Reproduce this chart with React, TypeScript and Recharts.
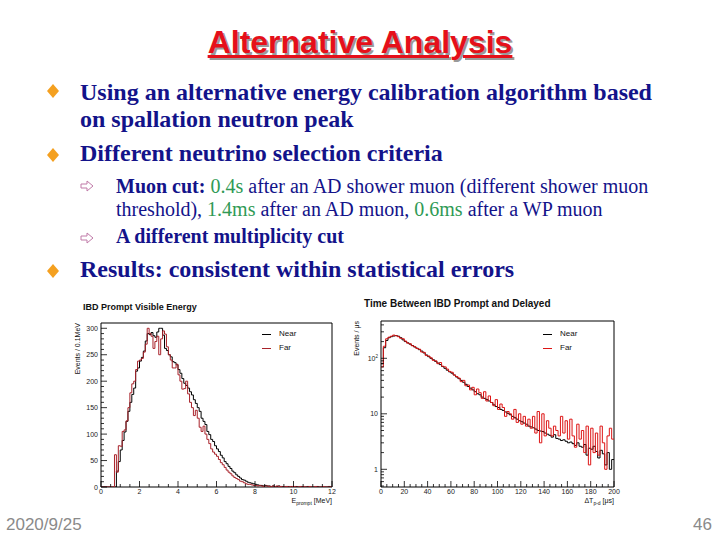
import React from 'react';
import { LineChart, Line, XAxis, YAxis, ReferenceArea } from 'recharts';

// IBD prompt visible energy, events per 0.1 MeV bin, 0 - 12 MeV
const energyNear = [
  0, 0, 0, 0, 0, 0, 0, 0, 30, 48,
  70, 88, 104, 124, 143, 160, 175, 187, 219, 225,
  238, 245, 257, 276, 290, 288, 292, 286, 283, 293,
  300, 300, 287, 262, 258, 250, 246, 237, 235, 231,
  222, 215, 205, 196, 192, 187, 180, 174, 165, 158,
  150, 143, 130, 124, 118, 105, 99, 90, 86, 78,
  72, 67, 60, 55, 48, 44, 39, 35, 30, 27,
  23, 20, 17, 14, 13, 11, 9, 8, 7, 6,
  5, 4, 3, 3, 2, 3, 2, 2, 1, 2,
  1, 1, 2, 1, 1, 0, 1, 1, 0, 1,
  0, 1, 0, 0, 1, 0, 0, 1, 0, 0,
  0, 0, 1, 0, 0, 0, 0, 0, 1, 0,
];
const energyFar = [
  0, 0, 0, 0, 0, 0, 0, 61, 28, 78,
  77, 105, 108, 125, 150, 178, 195, 200, 222, 238,
  240, 243, 255, 270, 300, 290, 285, 262, 275, 285,
  250, 280, 295, 289, 265, 250, 240, 225, 225, 232,
  212, 200, 185, 186, 200, 176, 160, 150, 135, 145,
  130, 113, 105, 115, 100, 90, 82, 72, 66, 62,
  58, 52, 46, 42, 37, 32, 28, 25, 21, 18,
  16, 14, 11, 10, 8, 6, 5, 5, 4, 3,
  3, 2, 3, 2, 1, 2, 2, 1, 1, 2,
  1, 2, 1, 1, 0, 1, 1, 0, 1, 1,
  1, 0, 0, 1, 0, 1, 0, 0, 1, 0,
  0, 1, 0, 0, 0, 1, 0, 0, 0, 0,
];

// time between prompt and delayed, events per us, 2 us bins, 0 - 200 us
const dtNear = [
  80, 155, 210, 235, 245, 252, 257, 250, 235, 215,
  200, 190, 180, 170, 160, 152, 143, 135, 125, 115,
  107, 100, 94, 88, 82, 77, 71, 66, 61, 57,
  54, 50, 46, 43, 40, 37, 34, 31, 29, 27,
  25, 23, 22, 20, 19, 18, 17, 16, 14.5, 13.5,
  13, 12, 11.5, 10.8, 10.2, 9.6, 9, 8.5, 8, 7.5,
  7.2, 6.8, 6.5, 6, 5.8, 5.6, 5.3, 5, 4.9, 4.8,
  4.5, 4.3, 4.1, 3.8, 4.2, 3.6, 3.5, 3.3, 3.4, 3.2,
  3.0, 3.1, 2.9, 2.7, 3.0, 2.6, 2.5, 2.8, 1.8, 2.4,
  2.3, 2.6, 2.1, 1.6, 2.2, 1.9, 1.2, 2.0, 1.0, 1.5,
];
const dtFar = [
  70, 165, 225, 240, 250, 262, 255, 245, 230, 225,
  205, 188, 183, 168, 162, 150, 146, 130, 128, 112,
  110, 102, 92, 90, 80, 84, 72, 70, 64, 58,
  56, 50, 47, 44, 38, 40, 32, 33, 27, 30,
  22, 28, 24, 19, 25, 17, 21, 16, 14, 18,
  12, 15, 13, 9, 11, 10, 8, 12, 7, 10,
  6.5, 9, 6, 8, 5.5, 9, 4.5, 11, 3, 10,
  4, 7.5, 5.5, 4, 6, 5, 4, 9, 4.5, 7.5,
  3.5, 8, 4, 2.5, 6.5, 3.5, 5, 2, 6, 1.2,
  5.5, 2, 4.5, 1.8, 6, 3, 1, 4, 5.5, 3.5,
];

const energyMajor = [0, 2, 4, 6, 8, 10, 12];
const energyCountMajor = [0, 50, 100, 150, 200, 250, 300];
const dtMajor = [0, 20, 40, 60, 80, 100, 120, 140, 160, 180, 200];
const dtCountMajor = [1, 10, 100];

function histRows(near: number[], far: number[], bin: number) {
  const rows = near.map((n, i) => ({ x: Math.round(i * bin * 10) / 10, near: n, far: far[i] }));
  rows.push({ x: Math.round(near.length * bin * 10) / 10, near: near[near.length - 1], far: far[far.length - 1] });
  return rows;
}

const energyData = histRows(energyNear, energyFar, 0.1);
const dtData = histRows(dtNear, dtFar, 2);

const energyTicks = Array.from({ length: 25 }, (_, i) => i * 0.5);
const countTicks = Array.from({ length: 31 }, (_, i) => i * 10);
const dtTicks = Array.from({ length: 41 }, (_, i) => i * 5);
const logTicks: number[] = [];
[0.1, 1, 10, 100].forEach((d) => {
  for (let m = 1; m <= 9; m++) {
    const v = m * d;
    if (v >= 0.48 && v <= 470) logTicks.push(v);
  }
});

const sans = 'Liberation Sans, Arial, Helvetica, sans-serif';
const serif = 'Liberation Serif, Times New Roman, serif';
const navy = '#13138a';
const green = '#2f9a55';

function XTick(props: any) {
  const { x, y, payload, majors } = props;
  const major = majors.includes(payload.value);
  return (
    <g>
      <line x1={x} x2={x} y1={y} y2={y - (major ? 6 : 3)} stroke="#000" strokeWidth={0.8} />
      {major && (
        <text x={x} y={y + 7} textAnchor="middle" fontFamily={sans} fontSize={7} fill="#222">
          {payload.value}
        </text>
      )}
    </g>
  );
}

function YTick(props: any) {
  const { x, y, payload, majors, log } = props;
  const v = payload.value;
  const major = majors.includes(v);
  return (
    <g>
      <line x1={x} x2={x + (major ? 6 : 3)} y1={y} y2={y} stroke="#000" strokeWidth={0.8} />
      {major && (
        <text x={x - 3} y={y + 2.5} textAnchor="end" fontFamily={sans} fontSize={7} fill="#222">
          {log && v === 100 ? (
            <>
              10<tspan dy={-3} fontSize={4.5}>2</tspan>
            </>
          ) : (
            v
          )}
        </text>
      )}
    </g>
  );
}

function Diamond({ cx, cy }: { cx: number; cy: number }) {
  return (
    <svg style={{ position: 'absolute', left: cx - 6, top: cy - 7 }} width={12} height={14}>
      <polygon points="6,0 12,7 6,14 0,7" fill="#f4a020" />
    </svg>
  );
}

function Arrow({ cx, cy }: { cx: number; cy: number }) {
  return (
    <svg style={{ position: 'absolute', left: cx - 7, top: cy - 6 }} width={14} height={12}>
      <polygon points="1,4 7,4 7,1 13,6 7,11 7,8 1,8" fill="none" stroke="#c07aa8" strokeWidth={1} />
    </svg>
  );
}

function Txt({ left, top, size, children, style }: any) {
  return (
    <div
      style={{
        position: 'absolute',
        left,
        top,
        fontSize: size,
        lineHeight: `${size}px`,
        whiteSpace: 'nowrap',
        fontFamily: serif,
        color: navy,
        ...style,
      }}
    >
      {children}
    </div>
  );
}

function LegendBox({ left, top, far }: { left: number; top: number; far: string }) {
  const item = (label: string, color: string, dy: number) => (
    <div style={{ position: 'absolute', left: 0, top: dy, display: 'flex', alignItems: 'center' }}>
      <div style={{ width: 9, height: 0, borderTop: `1px solid ${color}` }} />
      <span style={{ marginLeft: 8, fontFamily: sans, fontSize: 8, lineHeight: '8px', color: '#111' }}>{label}</span>
    </div>
  );
  return (
    <div style={{ position: 'absolute', left, top, width: 50, height: 30 }}>
      {item('Near', '#000', 0)}
      {item('Far', far, 14)}
    </div>
  );
}

const smallSans = { fontFamily: sans, color: '#111' };

export default function App() {
  return (
    <div style={{ position: 'absolute', left: 0, top: 0, width: 720, height: 540, background: '#fff', overflow: 'hidden' }}>
      {/* title */}
      <div
        style={{
          position: 'absolute',
          left: 0,
          top: 27,
          width: 720,
          textAlign: 'center',
          fontFamily: sans,
          fontWeight: 'bold',
          fontSize: 32,
          lineHeight: '31px',
          color: '#e5101a',
          textDecoration: 'underline',
          textShadow: '2px 2px 0 #9a9a9a',
        }}
      >
        Alternative Analysis
      </div>

      <Diamond cx={53} cy={91} />
      <Txt left={80} top={80} size={24} style={{ fontWeight: 'bold' }}>
        Using an alternative energy calibration algorithm based
      </Txt>
      <Txt left={80} top={107} size={24} style={{ fontWeight: 'bold' }}>
        on spallation neutron peak
      </Txt>
      <Diamond cx={53} cy={155} />
      <Txt left={80} top={141} size={24} style={{ fontWeight: 'bold' }}>
        Different neutrino selection criteria
      </Txt>

      <Arrow cx={87} cy={186} />
      <Txt left={116} top={176} size={20}>
        <b>Muon cut:</b> <span style={{ color: green }}>0.4s</span> after an AD shower muon (different shower muon
      </Txt>
      <Txt left={116} top={199} size={20}>
        threshold), <span style={{ color: green }}>1.4ms</span> after an AD muon,{' '}
        <span style={{ color: green }}>0.6ms</span> after a WP muon
      </Txt>
      <Arrow cx={87} cy={238} />
      <Txt left={116} top={226} size={20} style={{ fontWeight: 'bold' }}>
        A different multiplicity cut
      </Txt>

      <Diamond cx={53} cy={271} />
      <Txt left={80} top={257} size={24} style={{ fontWeight: 'bold' }}>
        Results: consistent within statistical errors
      </Txt>

      {/* left histogram */}
      <div style={{ position: 'absolute', left: 83, top: 302, fontFamily: sans, fontWeight: 'bold', fontSize: 9, lineHeight: '10px', color: '#111' }}>
        IBD Prompt Visible Energy
      </div>
      <div
        style={{
          position: 'absolute',
          left: 74,
          top: 423,
          width: 100,
          textAlign: 'right',
          transform: 'rotate(-90deg)',
          transformOrigin: '0 0',
          fontSize: 7,
          lineHeight: '8px',
          ...smallSans,
        }}
      >
        Events / 0.1MeV
      </div>
      <div style={{ position: 'absolute', left: 60, top: 300 }}>
        <LineChart width={290} height={210} data={energyData} margin={{ top: 23, right: 18, left: 0, bottom: 0 }}>
          <XAxis
            dataKey="x"
            type="number"
            domain={[0, 12]}
            allowDataOverflow
            ticks={energyTicks}
            interval={0}
            height={23}
            axisLine={false}
            tickLine={false}
            tickSize={0}
            tickMargin={0}
            tick={(p: any) => <XTick {...p} majors={energyMajor} />}
          />
          <YAxis
            type="number"
            domain={[0, 310]}
            allowDataOverflow
            ticks={countTicks}
            interval={0}
            width={41}
            axisLine={false}
            tickLine={false}
            tickSize={0}
            tickMargin={0}
            tick={(p: any) => <YTick {...p} majors={energyCountMajor} />}
          />
          <Line type="stepAfter" dataKey="near" stroke="#000" strokeWidth={1} dot={false} isAnimationActive={false} />
          <Line type="stepAfter" dataKey="far" stroke="#a8222a" strokeWidth={1} dot={false} isAnimationActive={false} />
          <ReferenceArea x1={0} x2={12} y1={0} y2={310} fill="none" stroke="#000" strokeWidth={1} />
        </LineChart>
      </div>
      <LegendBox left={262} top={330} far="#a8222a" />
      <div style={{ position: 'absolute', left: 232, top: 497, width: 100, textAlign: 'right', fontSize: 7, lineHeight: '7px', ...smallSans }}>
        E<sub style={{ fontSize: 5, lineHeight: '5px' }}>prompt</sub> [MeV]
      </div>

      {/* right histogram */}
      <div style={{ position: 'absolute', left: 364, top: 299, fontFamily: sans, fontWeight: 'bold', fontSize: 10, lineHeight: '10px', color: '#111' }}>
        Time Between IBD Prompt and Delayed
      </div>
      <div
        style={{
          position: 'absolute',
          left: 353,
          top: 421,
          width: 100,
          textAlign: 'right',
          transform: 'rotate(-90deg)',
          transformOrigin: '0 0',
          fontSize: 7,
          lineHeight: '8px',
          ...smallSans,
        }}
      >
        Events / μs
      </div>
      <div style={{ position: 'absolute', left: 345, top: 300 }}>
        <LineChart width={280} height={210} data={dtData} margin={{ top: 21, right: 11, left: 0, bottom: 0 }}>
          <XAxis
            dataKey="x"
            type="number"
            domain={[0, 200]}
            allowDataOverflow
            ticks={dtTicks}
            interval={0}
            height={23}
            axisLine={false}
            tickLine={false}
            tickSize={0}
            tickMargin={0}
            tick={(p: any) => <XTick {...p} majors={dtMajor} />}
          />
          <YAxis
            type="number"
            scale="log"
            domain={[0.48, 470]}
            allowDataOverflow
            ticks={logTicks}
            interval={0}
            width={36}
            axisLine={false}
            tickLine={false}
            tickSize={0}
            tickMargin={0}
            tick={(p: any) => <YTick {...p} majors={dtCountMajor} log />}
          />
          <Line type="stepAfter" dataKey="near" stroke="#000" strokeWidth={1} dot={false} isAnimationActive={false} />
          <Line type="stepAfter" dataKey="far" stroke="#dd1515" strokeWidth={1} dot={false} isAnimationActive={false} />
          <ReferenceArea x1={0} x2={200} y1={0.48} y2={470} fill="none" stroke="#000" strokeWidth={1} />
        </LineChart>
      </div>
      <LegendBox left={543} top={330} far="#dd1515" />
      <div style={{ position: 'absolute', left: 514, top: 497, width: 100, textAlign: 'right', fontSize: 7, lineHeight: '7px', ...smallSans }}>
        ΔT<sub style={{ fontSize: 5, lineHeight: '5px' }}>p-d</sub> [μs]
      </div>

      {/* footer */}
      <div style={{ position: 'absolute', left: 6, top: 516, fontFamily: sans, fontSize: 17, lineHeight: '17px', color: '#8a8a8a' }}>
        2020/9/25
      </div>
      <div style={{ position: 'absolute', left: 612, top: 516, width: 100, textAlign: 'right', fontFamily: sans, fontSize: 17, lineHeight: '17px', color: '#8a8a8a' }}>
        46
      </div>
    </div>
  );
}
